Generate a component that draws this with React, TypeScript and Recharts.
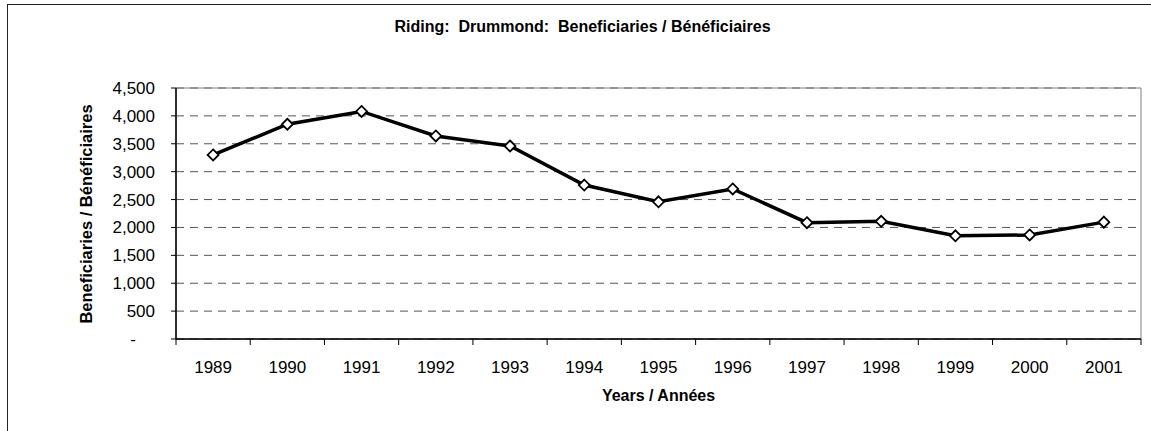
import { ComposedChart, Line, XAxis, YAxis, CartesianGrid, ReferenceArea } from "recharts";

const years = ["1989", "1990", "1991", "1992", "1993", "1994", "1995", "1996", "1997", "1998", "1999", "2000", "2001"];
const beneficiaries = [3300, 3850, 4080, 3640, 3460, 2760, 2460, 2690, 2085, 2110, 1850, 1865, 2095];
const yTicks = [0, 500, 1000, 1500, 2000, 2500, 3000, 3500, 4000, 4500];

const title = "Riding:  Drummond:  Beneficiaries / Bénéficiaires";
const yTitle = "Beneficiaries / Bénéficiaires";
const xTitle = "Years / Années";

const W = 1151;
const H = 431;
const margin = { top: 88, right: 10, bottom: 62, left: 76 };
const Y_W = 100;
const X_H = 30;
const plotLeft = margin.left + Y_W;
const plotRight = W - margin.right;
const plotTop = margin.top;
const plotBottom = H - margin.bottom - X_H;

const tickFont = "'Liberation Sans', Arial, sans-serif";
const narrowFont = "'Liberation Sans Narrow', 'Arial Narrow', 'Liberation Sans', sans-serif";

const data = years.map((year, i) => ({ year, value: beneficiaries[i] }));

function XTick(props: any) {
  const { x, payload, index } = props;
  const half = payload?.offset || (plotRight - plotLeft) / years.length / 2;
  return (
    <g>
      <line x1={x - half} x2={x - half} y1={plotBottom} y2={plotBottom + 6} stroke="#000" />
      {index === years.length - 1 && (
        <line x1={x + half} x2={x + half} y1={plotBottom} y2={plotBottom + 6} stroke="#000" />
      )}
      <text x={x} y={plotBottom + 28} dy="0.35em" textAnchor="middle" fontSize={17} fontFamily={tickFont} fill="#000">
        {payload.value}
      </text>
    </g>
  );
}

function YTick(props: any) {
  const { x, y, payload } = props;
  const v = payload.value as number;
  return (
    <text x={v === 0 ? x - 19 : x} y={y} dy="0.35em" textAnchor="end" fontSize={17} fontFamily={tickFont} fill="#000">
      {v === 0 ? "-" : v.toLocaleString("en-US")}
    </text>
  );
}

function Diamond(props: any) {
  const { cx, cy, index } = props;
  if (cx == null || cy == null) return <g key={index} />;
  const r = 5.5;
  return (
    <path
      key={index}
      d={`M${cx},${cy - r} L${cx + r},${cy} L${cx},${cy + r} L${cx - r},${cy} Z`}
      fill="#fff"
      stroke="#000"
      strokeWidth={1.8}
    />
  );
}

export default function App() {
  return (
    <div style={{ position: "absolute", left: 0, top: 0, width: W, height: H, overflow: "hidden", background: "#fff" }}>
      <div
        style={{
          position: "absolute",
          left: 7,
          top: 4,
          width: W + 50,
          height: H + 50,
          borderLeft: "1px solid #222",
          borderTop: "1px solid #222",
        }}
      />
      <ComposedChart width={W} height={H} data={data} margin={margin} style={{ position: "absolute", left: 0, top: 0 }}>
        <CartesianGrid horizontal vertical={false} stroke="#555" strokeDasharray="8 6" />
        <ReferenceArea x1="1989" x2="2001" y1={0} y2={4500} fill="none" stroke="#808080" strokeWidth={1} ifOverflow="visible" />
        <XAxis
          dataKey="year"
          scale="band"
          height={X_H}
          axisLine={{ stroke: "#000", strokeWidth: 1.5 }}
          tickLine={false}
          tick={<XTick />}
          interval={0}
        />
        <YAxis
          type="number"
          domain={[0, 4500]}
          ticks={yTicks}
          width={Y_W}
          axisLine={{ stroke: "#000", strokeWidth: 1.5 }}
          tickLine={{ stroke: "#000" }}
          tickSize={5}
          tickMargin={16}
          tick={<YTick />}
          interval={0}
        />
        <Line
          type="linear"
          dataKey="value"
          stroke="#000"
          strokeWidth={3.5}
          dot={(p: any) => <Diamond key={p.index} {...p} />}
          activeDot={false}
          isAnimationActive={false}
        />
      </ComposedChart>
      <div
        style={{
          position: "absolute",
          left: 0,
          width: W,
          top: 18,
          textAlign: "center",
          paddingLeft: 14,
          boxSizing: "border-box",
          whiteSpace: "pre",
          fontFamily: narrowFont,
          fontWeight: "bold",
          fontSize: 16,
          lineHeight: "18px",
          color: "#000",
        }}
      >
        {title}
      </div>
      <div
        style={{
          position: "absolute",
          left: plotLeft,
          width: plotRight - plotLeft,
          top: 387,
          textAlign: "center",
          fontFamily: narrowFont,
          fontWeight: "bold",
          fontSize: 16,
          lineHeight: "18px",
          color: "#000",
        }}
      >
        {xTitle}
      </div>
      <div
        style={{
          position: "absolute",
          left: 86 - 150,
          top: (plotTop + plotBottom) / 2 - 9,
          width: 300,
          textAlign: "center",
          transform: "rotate(-90deg)",
          fontFamily: narrowFont,
          fontWeight: "bold",
          fontSize: 16.5,
          lineHeight: "18px",
          color: "#000",
        }}
      >
        {yTitle}
      </div>
    </div>
  );
}
